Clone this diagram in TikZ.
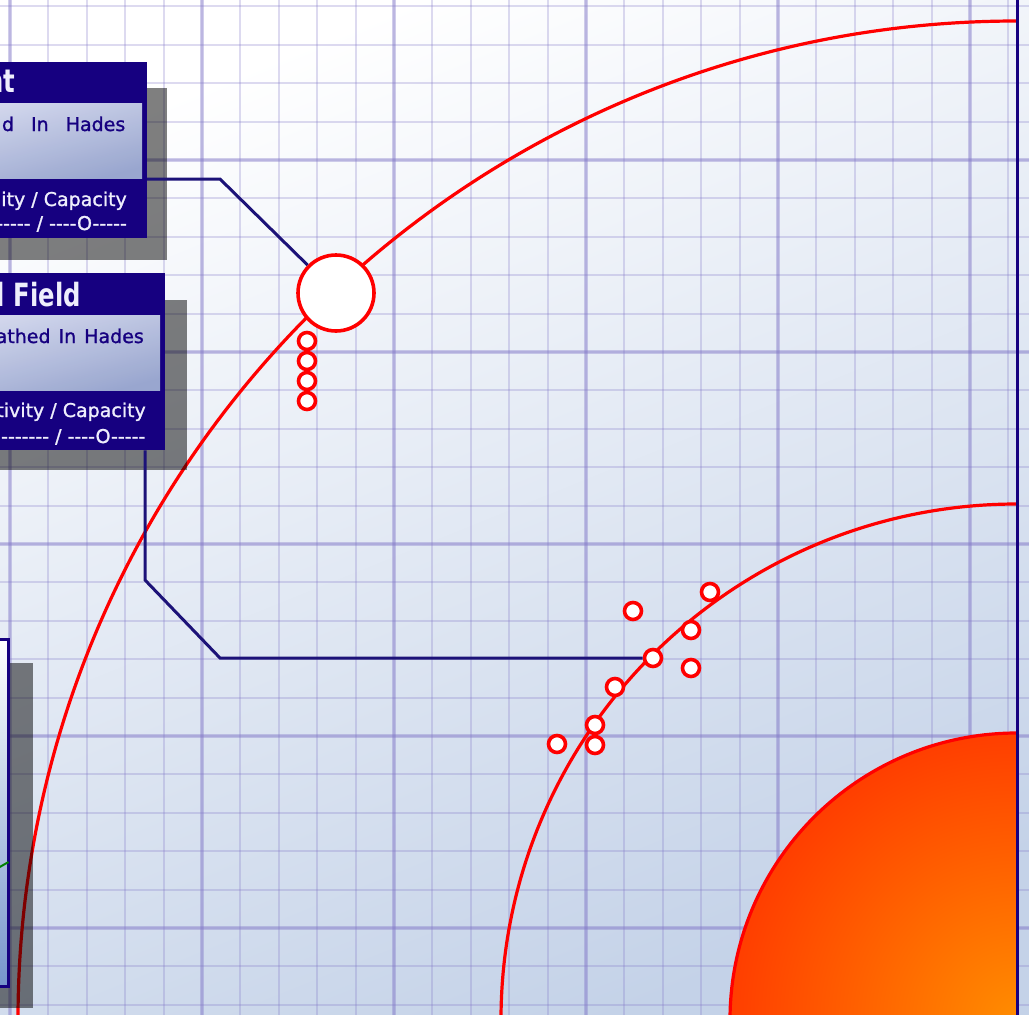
\documentclass[tikz,border=0pt]{standalone}
\usepackage{fontspec}
\newfontfamily\bodyfont[Ligatures=TeXOff,FakeBold=1.2]{DejaVu Sans}
\newfontfamily\headfont[FakeStretch=0.76]{DejaVu Sans Bold}
\definecolor{navy}{RGB}{22,0,128}
\definecolor{linenavy}{RGB}{28,18,120}
\definecolor{gridc}{RGB}{130,120,200}
\definecolor{bgblue}{RGB}{196,210,232}
\definecolor{panelA}{RGB}{226,233,246}
\definecolor{panelB}{RGB}{165,181,214}
\definecolor{boxthree}{RGB}{118,148,204}
\definecolor{orangeIn}{RGB}{255,140,0}
\definecolor{orangeOut}{RGB}{255,62,0}
\definecolor{softwhite}{RGB}{238,238,252}
\begin{document}
\begin{tikzpicture}[x=1pt,y=-1pt,
  minorline/.style={draw=gridc,draw opacity=0.27,line width=2pt},
  majorline/.style={draw=gridc,draw opacity=0.36,line width=4pt},
  shadowbox/.style={fill=black,fill opacity=0.5},
  conn/.style={draw=linenavy,line width=3pt},
  redarc/.style={draw=red,line width=3.2pt},
  ring/.style={circle,draw=red,fill=white,line width=3.6pt,inner sep=0pt,minimum size=17pt},
  navybox/.style={fill=navy,inner sep=0pt,anchor=north east},
  navytxt/.style={text=navy,inner sep=0pt,anchor=base east,font=\bodyfont\fontsize{19}{22}\selectfont},
  whitetxt/.style={text=softwhite,inner sep=0pt,anchor=base east,font=\bodyfont\fontsize{19}{22}\selectfont},
  headtxt/.style={text=softwhite,inner sep=0pt,anchor=base east,font=\headfont\fontsize{32}{36}\selectfont}]
\useasboundingbox (0,0) rectangle (1029,1015);
\clip (0,0) rectangle (1029,1015);
% background
\shade[top color=white,bottom color=bgblue,shading angle=22] (0,0) rectangle (1029,1015);
% grid
\foreach \i in {-1,...,26} \draw[minorline] ({10+38.4*\i},0) -- ({10+38.4*\i},1015);
\foreach \i in {0,...,26} \draw[minorline] (0,{6.4+38.4*\i}) -- (1029,{6.4+38.4*\i});
\foreach \x in {10,202,394,586,778,970} \draw[majorline] (\x,0) -- (\x,1015);
\foreach \y in {160,352,544,736,928} \draw[majorline] (0,\y) -- (1029,\y);
% orbits and sun
\begin{scope}
  \clip (0,0) rectangle (1016,1015);
  \draw[redarc] (1017,1020) circle (999);
  \draw[redarc] (1017,1020) circle (516);
  \shade[inner color=orangeIn,outer color=orangeOut] (1017,1020) circle (287);
  \draw[redarc] (1017,1020) circle (287);
\end{scope}
\draw[navy,line width=3pt] (1017.5,0) -- (1017.5,1015);
% planets
\node[ring,minimum size=76pt] (big) at (336,293) {};
\node[ring] (s1) at (307,341) {};
\node[ring] (s2) at (307,361) {};
\node[ring] (s3) at (307,381) {};
\node[ring] (s4) at (307,401) {};
\node[ring] (t1) at (633,611) {};
\node[ring] (t2) at (710,592) {};
\node[ring] (t3) at (691,630) {};
\node[ring] (t4) at (653,658) {};
\node[ring] (t5) at (691,668) {};
\node[ring] (t6) at (615,687) {};
\node[ring] (t7) at (595,725) {};
\node[ring] (t8) at (595,745) {};
\node[ring] (t9) at (557,744) {};
% box 1
\fill[shadowbox] (-30,88) rectangle (167,260);
\node[navybox,minimum width=197pt,minimum height=176pt] (b1) at (147,62) {};
\shade[top color=panelA,bottom color=panelB,shading angle=15,opacity=0.92] (-30,103) rectangle (142,178);
\node[headtxt] (h1) at (15.5,92) {nt};
\node[navytxt] (l11) at (125.5,131) {d\hspace{17pt}In\hspace{17pt}Hades};
\node[whitetxt] (l12) at (127,206) {ity / Capacity};
\node[whitetxt] (l13) at (127,230) {------ / ----O-----};
% box 2
\fill[shadowbox] (-30,300) rectangle (187,470);
\node[navybox,minimum width=195pt,minimum height=177pt] (b2) at (165,273) {};
\shade[top color=panelA,bottom color=panelB,shading angle=15,opacity=0.92] (-30,315) rectangle (160,390);
\node[headtxt] (h2) at (81,306) {l Field};
\node[navytxt] (l21) at (144,343) {athed\hspace{8pt}In\hspace{8pt}Hades};
\node[whitetxt] (l22) at (146,417) {tivity / Capacity};
\node[whitetxt] (l23) at (145.5,443) {------- / ----O-----};
% box 3
\fill[shadowbox] (-10,663) rectangle (33,1008);
\node[draw=navy,line width=3pt,top color=white,bottom color=boxthree,inner sep=0pt,
      minimum width=40pt,minimum height=347pt,anchor=north east] (b3) at (10,638) {};
\draw[green!50!black,line width=2pt] (-2,868) -- (8.5,862);
% connectors
\coordinate (j1) at (220,179);
\draw[conn] (b1.east |- j1) -- (j1) -- (big);
\coordinate (j2) at (145,580);
\coordinate (j3) at (220,658);
\draw[conn] (b2.south -| j2) -- (j2) -- (j3) -- (t4);
\end{tikzpicture}
\end{document}
